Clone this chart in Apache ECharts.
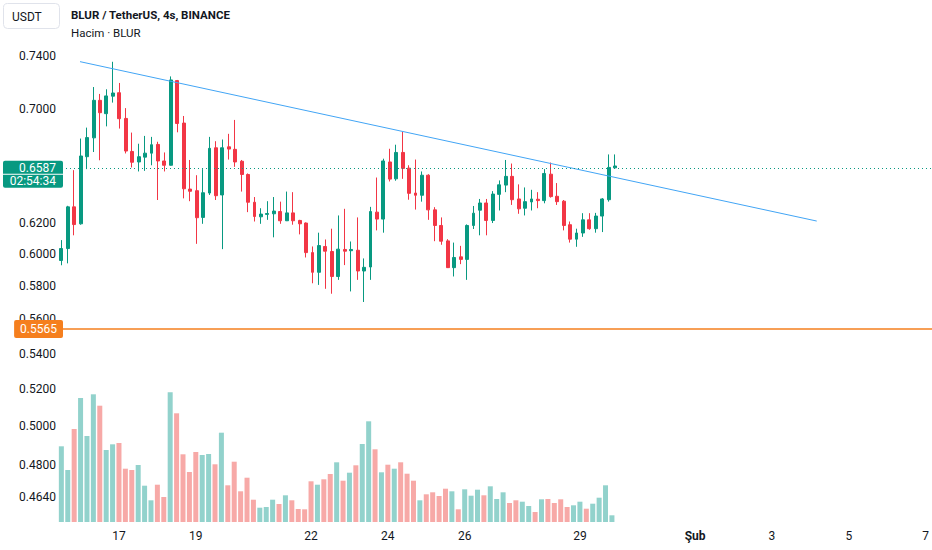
<!DOCTYPE html>
<html>
<head>
<meta charset="utf-8">
<title>BLUR / TetherUS, 4s, BINANCE</title>
<script src="https://cdn.jsdelivr.net/npm/echarts@6.0.0/dist/echarts.min.js"></script>
<style>
  html, body { margin: 0; padding: 0; background: #fff; }
  #main { width: 932px; height: 550px; }
</style>
</head>
<body>
<div id="main"></div>
<script>
// 4s mumlar, index 0 = 15 Oca 12:00 (ilk mum grafiğin sol kenarında kesik)
const opens = [0.5960, 0.6036, 0.6308, 0.6196, 0.6652, 0.6786, 0.7061, 0.6962, 0.7092, 0.7118,
  0.6927, 0.6689, 0.6615, 0.6649, 0.6677, 0.6739, 0.6622, 0.6592, 0.7210, 0.6893,
  0.6428, 0.6417, 0.6238, 0.6401, 0.6715, 0.6388, 0.6722, 0.6704, 0.6620, 0.6528,
  0.6339, 0.6242, 0.6258, 0.6262, 0.6277, 0.6216, 0.6268, 0.6218, 0.6201, 0.6010,
  0.5886, 0.6049, 0.6017, 0.5860, 0.6030, 0.6022, 0.6025, 0.5894, 0.5919, 0.6273,
  0.6227, 0.6615, 0.6498, 0.6682, 0.6572, 0.6401, 0.6386, 0.6523, 0.6288, 0.6185,
  0.6085, 0.5915, 0.5983, 0.5967, 0.6185, 0.6286, 0.6334, 0.6218, 0.6392, 0.6455,
  0.6515, 0.6361, 0.6299, 0.6341, 0.6359, 0.6350, 0.6530, 0.6379, 0.6346, 0.6190,
  0.6096, 0.6136, 0.6222, 0.6164, 0.6247, 0.6356, 0.6574]
const highs = [0.6090, 0.6315, 0.6558, 0.6781, 0.6860, 0.7161, 0.7109, 0.7144, 0.7355, 0.7192,
  0.7003, 0.6824, 0.6744, 0.6800, 0.6793, 0.6758, 0.6682, 0.7242, 0.7215, 0.6945,
  0.6629, 0.6523, 0.6565, 0.6793, 0.6762, 0.6774, 0.6815, 0.6916, 0.6629, 0.6535,
  0.6374, 0.6299, 0.6346, 0.6374, 0.6343, 0.6411, 0.6407, 0.6222, 0.6205, 0.6049,
  0.6138, 0.6094, 0.6164, 0.6251, 0.6295, 0.6081, 0.6238, 0.5973, 0.6308, 0.6507,
  0.6638, 0.6708, 0.6737, 0.6829, 0.6592, 0.6632, 0.6549, 0.6530, 0.6306, 0.6238,
  0.6096, 0.6074, 0.6053, 0.6192, 0.6314, 0.6361, 0.6361, 0.6414, 0.6487, 0.6629,
  0.6604, 0.6460, 0.6439, 0.6423, 0.6407, 0.6565, 0.6611, 0.6469, 0.6354, 0.6211,
  0.6164, 0.6266, 0.6266, 0.6268, 0.6367, 0.6668, 0.6668]
const lows = [0.5930, 0.5942, 0.6121, 0.6190, 0.6565, 0.6685, 0.6627, 0.6869, 0.7044, 0.6853,
  0.6675, 0.6577, 0.6549, 0.6553, 0.6592, 0.6354, 0.6549, 0.6590, 0.6826, 0.6365,
  0.6346, 0.6066, 0.6196, 0.6388, 0.6354, 0.6032, 0.6632, 0.6581, 0.6411, 0.6273,
  0.6211, 0.6196, 0.6222, 0.6108, 0.6196, 0.6214, 0.6190, 0.6127, 0.5979, 0.5818,
  0.5808, 0.5784, 0.5754, 0.5839, 0.5931, 0.5768, 0.5839, 0.5704, 0.5839, 0.6153,
  0.6138, 0.6480, 0.6485, 0.6498, 0.6356, 0.6290, 0.6343, 0.6222, 0.6083, 0.6060,
  0.5913, 0.5860, 0.5937, 0.5839, 0.6162, 0.6121, 0.6121, 0.6201, 0.6284, 0.6407,
  0.6321, 0.6262, 0.6251, 0.6284, 0.6299, 0.6332, 0.6370, 0.6321, 0.6153, 0.6074,
  0.6047, 0.6111, 0.6157, 0.6138, 0.6142, 0.6343, 0.6572]
const closes = [0.6036, 0.6308, 0.6191, 0.6657, 0.6788, 0.7061, 0.6969, 0.7094, 0.7116, 0.6925,
  0.6692, 0.6613, 0.6652, 0.6677, 0.6737, 0.6622, 0.6592, 0.7215, 0.6890, 0.6430,
  0.6413, 0.6236, 0.6403, 0.6711, 0.6383, 0.6715, 0.6706, 0.6615, 0.6528, 0.6339,
  0.6244, 0.6260, 0.6264, 0.6280, 0.6216, 0.6268, 0.6216, 0.6196, 0.6010, 0.5886,
  0.6055, 0.6019, 0.5860, 0.6032, 0.6019, 0.6030, 0.5894, 0.5917, 0.6277, 0.6227,
  0.6622, 0.6496, 0.6682, 0.6570, 0.6399, 0.6386, 0.6523, 0.6288, 0.6185, 0.6083,
  0.5915, 0.5979, 0.5967, 0.6185, 0.6266, 0.6334, 0.6218, 0.6394, 0.6457, 0.6515,
  0.6356, 0.6295, 0.6343, 0.6361, 0.6350, 0.6535, 0.6377, 0.6343, 0.6185, 0.6096,
  0.6136, 0.6222, 0.6164, 0.6247, 0.6361, 0.6577, 0.6587]
// hacim (bin BLUR, tahmini)
const volumes = [757, 520, 930, 1240, 860, 1277, 1163, 720, 777, 790,
  533, 520, 570, 363, 217, 373, 250, 1297, 1087, 677,
  500, 700, 670, 680, 577, 893, 367, 603, 307, 443,
  223, 143, 150, 223, 180, 267, 217, 130, 127, 407,
  373, 427, 480, 597, 413, 493, 567, 780, 1007, 727,
  497, 573, 533, 597, 483, 413, 217, 277, 297, 260,
  333, 307, 127, 327, 263, 323, 267, 357, 230, 297,
  190, 217, 203, 160, 100, 227, 230, 190, 227, 150,
  167, 203, 133, 183, 243, 367, 67]

// zaman ekseni: gün başlangıcı olan mum indexleri
const dayTickSlots = [9, 21, 39, 51, 63, 81, 99, 111, 123, 135]
const dayTickLabels = ['17', '19', '22', '24', '26', '29', 'Şub', '3', '5', '7']
// fiyat ekseni (log)
const priceTicks = [0.74, 0.70, 0.62, 0.60, 0.58, 0.56, 0.54, 0.52, 0.50, 0.48, 0.464]
const priceTop = 0.7852
const priceBottom = 0.4519
// trend çizgisi [index, fiyat]
const trendLine = [[2.9, 0.7356], [117.3, 0.6214]]
const lastPrice = 0.6587
const countdown = '02:54:34'
const levelPrice = 0.5565

const upColor = '#089981'
const downColor = '#F23645'
const volUp = 'rgba(38, 166, 154, 0.5)'
const volDown = 'rgba(239, 83, 80, 0.5)'
const levelColor = '#F57F1E'
const textColor = '#131722'
const font = 'Roboto, "Noto Sans", sans-serif'
const xMin = 0.1, xMax = 135.2

const candleData = opens.map((o, i) => [i, Math.log(o), Math.log(closes[i]), Math.log(lows[i]), Math.log(highs[i])])
const volumeData = volumes.map((v, i) => ({
  value: [i, v],
  itemStyle: { color: closes[i] >= opens[i] ? volUp : volDown }
}))

const chart = echarts.init(document.getElementById('main'), null, { renderer: 'svg' })

const option = {
  animation: false,
  backgroundColor: '#fff',
  textStyle: { fontFamily: font },
  grid: [
    { left: 62, right: 0, top: 0, bottom: 28 },
    { left: 62, right: 0, top: 300, bottom: 28 }
  ],
  xAxis: [
    { gridIndex: 0, type: 'value', min: xMin, max: xMax, show: false },
    {
      gridIndex: 1, type: 'value', min: xMin, max: xMax,
      axisLine: { show: false }, axisTick: { show: false }, splitLine: { show: false },
      axisLabel: {
        customValues: dayTickSlots,
        margin: 8,
        color: textColor,
        fontSize: 12,
        fontFamily: font,
        formatter: v => {
          const t = dayTickLabels[dayTickSlots.indexOf(v)]
          return t === 'Şub' ? '{b|' + t + '}' : t
        },
        rich: { b: { fontWeight: 'bold', fontSize: 12, fontFamily: font, color: textColor } }
      }
    }
  ],
  yAxis: [
    {
      gridIndex: 0, type: 'value', position: 'left',
      min: Math.log(priceBottom), max: Math.log(priceTop),
      axisLine: { show: false }, axisTick: { show: false }, splitLine: { show: false },
      axisLabel: {
        customValues: priceTicks.map(Math.log),
        formatter: v => Math.exp(v).toFixed(4),
        margin: 6,
        color: textColor,
        fontSize: 12,
        fontFamily: font
      }
    },
    { gridIndex: 1, type: 'value', min: 0, max: 2220, show: false }
  ],
  series: [
    {
      name: 'Hacim',
      type: 'bar',
      xAxisIndex: 1,
      yAxisIndex: 1,
      barWidth: 5,
      clip: true,
      data: volumeData
    },
    {
      name: 'BLUR',
      type: 'candlestick',
      xAxisIndex: 0,
      yAxisIndex: 0,
      barWidth: 3.4,
      itemStyle: {
        color: upColor, color0: downColor,
        borderColor: upColor, borderColor0: downColor,
        borderWidth: 1
      },
      data: candleData
    },
    {
      name: 'Trend',
      type: 'line',
      xAxisIndex: 0,
      yAxisIndex: 0,
      symbol: 'none',
      clip: false,
      lineStyle: { color: '#42A5F5', width: 1 },
      data: trendLine.map(p => [p[0], Math.log(p[1])]),
      markLine: {
        silent: true,
        symbol: ['none', 'none'],
        data: [
          {
            yAxis: Math.log(lastPrice),
            lineStyle: { color: upColor, width: 1, type: [1, 3] },
            label: {
              show: true,
              position: 'start',
              distance: -1,
              formatter: '{s| }\n{p|' + lastPrice.toFixed(4) + '}\n{t|' + countdown + '}',
              rich: {
                s: { lineHeight: 12, fontSize: 2 },
                p: {
                  color: '#fff', backgroundColor: upColor, fontSize: 12, fontFamily: font,
                  lineHeight: 14, width: 47, align: 'right', padding: [1, 7, 0, 6],
                  borderRadius: [2, 2, 0, 0]
                },
                t: {
                  color: '#fff', backgroundColor: upColor, fontSize: 12, fontFamily: font,
                  lineHeight: 14, width: 47, align: 'right', padding: [0, 7, 1, 6],
                  borderRadius: [0, 0, 2, 2]
                }
              }
            }
          },
          {
            yAxis: Math.log(levelPrice),
            lineStyle: { color: levelColor, width: 1.5, type: 'solid' },
            label: {
              show: true,
              position: 'start',
              distance: -1,
              formatter: levelPrice.toFixed(4),
              color: '#fff',
              backgroundColor: levelColor,
              fontSize: 12,
              fontFamily: font,
              lineHeight: 14,
              padding: [3, 6, 1, 6],
              borderRadius: 2
            }
          }
        ]
      }
    }
  ],
  graphic: [
    {
      type: 'rect', z: 10,
      shape: { x: 3.5, y: 3.5, width: 56, height: 25, r: 4 },
      style: { fill: '#fff', stroke: '#e0e3eb', lineWidth: 1 }
    },
    {
      type: 'text', z: 11, x: 12, y: 16.5,
      style: { text: 'USDT', fill: textColor, font: '12px ' + font, verticalAlign: 'middle' }
    },
    {
      type: 'text', z: 11, x: 71, y: 15,
      style: { text: 'BLUR / TetherUS, 4s, BINANCE', fill: textColor, font: 'bold 11.5px ' + font, verticalAlign: 'middle' }
    },
    {
      type: 'text', z: 11, x: 71, y: 33,
      style: { text: 'Hacim · BLUR', fill: textColor, font: '11.5px ' + font, verticalAlign: 'middle' }
    }
  ]
}

chart.setOption(option)
</script>
</body>
</html>
